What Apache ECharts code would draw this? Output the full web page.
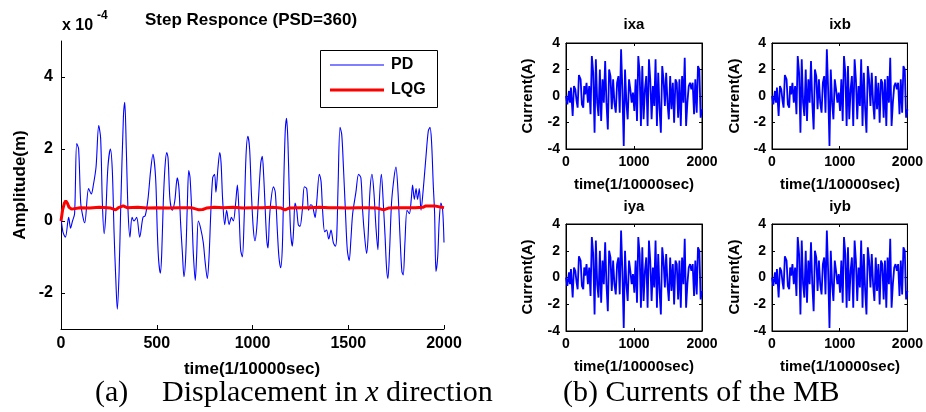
<!DOCTYPE html>
<html>
<head>
<meta charset="utf-8">
<script src="https://cdn.jsdelivr.net/npm/echarts@6/dist/echarts.min.js"></script>
<style>
html,body{margin:0;padding:0;background:#fff;}
#chart{width:926px;height:412px;}
</style>
</head>
<body>
<div id="chart"></div>
<script>
// ---- Data (values in units of 1e-4 m for PD / LQG; currents in A) ----
const pdData = [[0,0.1],[10,-0.3],[23,-0.45],[40,0.1],[50,-0.2],[60,0.0],[71,0.2],[82,2.15],[92,2.0],[103,0.5],[115,0.1],[124,-0.05],[144,0.9],[158,0.75],[169,1.0],[183,1.5],[197,2.65],[207,2.3],[216,0.5],[225,-0.35],[233,0.1],[245,1.5],[258,2.0],[268,1.4],[277,-0.3],[286,-1.6],[294,-2.45],[303,-1.5],[312,0.4],[326,2.9],[333,3.3],[341,2.0],[350,0.3],[360,-0.45],[371,0.1],[381,0.0],[395,0.1],[411,-0.45],[428,0.1],[440,0.15],[454,0.6],[468,1.4],[480,1.85],[494,1.2],[503,-0.3],[510,-1.1],[519,-1.45],[526,-0.9],[534,0.5],[543,1.5],[552,1.9],[559,1.75],[569,0.6],[581,0.3],[594,0.55],[607,1.2],[616,0.9],[625,-0.1],[634,-0.9],[642,-1.55],[651,-1.0],[660,0.5],[667,1.4],[674,1.2],[684,0.1],[691,-0.9],[701,-1.65],[708,-1.0],[717,0.0],[729,-0.2],[743,-0.6],[752,-1.1],[764,-1.6],[773,-1.0],[782,0.2],[792,1.2],[802,1.3],[809,0.8],[820,1.5],[829,1.9],[836,1.6],[844,0.6],[855,-0.1],[865,0.3],[878,-0.1],[890,0.1],[900,0.0],[912,0.5],[921,1.0],[930,0.2],[938,-0.8],[947,-1.0],[956,0.0],[966,1.8],[976,2.35],[985,2.0],[994,0.8],[1004,-0.2],[1013,-0.55],[1022,-0.2],[1030,0.5],[1043,1.6],[1051,1.8],[1058,1.3],[1065,0.5],[1074,-0.5],[1081,-0.75],[1088,0.0],[1095,0.5],[1109,0.95],[1119,0.8],[1130,-0.3],[1138,-1.0],[1147,-1.3],[1156,-0.7],[1163,1.0],[1171,2.5],[1178,2.85],[1185,2.2],[1192,0.8],[1199,-0.3],[1208,-0.7],[1215,-0.2],[1222,0.5],[1231,0.3],[1239,-0.1],[1248,-0.15],[1260,0.3],[1271,0.95],[1283,0.9],[1293,0.3],[1304,0.45],[1314,0.4],[1327,0.1],[1335,0.5],[1349,1.3],[1358,1.1],[1366,0.3],[1377,-0.3],[1387,-0.25],[1398,-0.5],[1410,-0.25],[1422,-0.6],[1433,-0.7],[1440,-0.4],[1447,1.0],[1457,2.6],[1466,2.4],[1474,1.6],[1485,0.3],[1495,-0.8],[1505,-1.1],[1514,-0.5],[1523,0.2],[1540,0.8],[1554,1.3],[1566,1.2],[1575,0.3],[1585,-0.4],[1596,-0.9],[1603,-0.5],[1613,0.8],[1624,1.3],[1634,0.8],[1645,-0.2],[1655,-0.8],[1662,0.5],[1673,1.3],[1683,0.5],[1692,-0.4],[1700,-1.3],[1707,-1.6],[1716,-0.8],[1726,0.5],[1739,1.2],[1749,1.5],[1760,0.8],[1770,-0.4],[1780,-1.4],[1787,-1.5],[1796,-0.6],[1807,0.3],[1819,0.2],[1829,0.6],[1836,1.0],[1845,0.6],[1854,0.9],[1862,0.6],[1871,0.9],[1880,0.3],[1892,0.9],[1906,1.8],[1918,2.5],[1927,2.6],[1935,2.2],[1944,1.0],[1951,0.2],[1958,-1.4],[1967,-1.0],[1975,0.0],[1984,0.5],[1993,0.3],[2000,-0.6]];

const lqgData = [[0,0.0],[8,0.3],[18,0.5],[25,0.56],[33,0.5],[42,0.38],[55,0.33],[100,0.37],[150,0.36],[200,0.38],[260,0.36],[285,0.31],[300,0.37],[325,0.42],[345,0.37],[400,0.38],[450,0.36],[500,0.37],[560,0.36],[610,0.37],[680,0.37],[720,0.31],[740,0.32],[760,0.36],[800,0.38],[850,0.37],[900,0.38],[950,0.36],[1000,0.37],[1050,0.37],[1100,0.38],[1150,0.36],[1170,0.31],[1190,0.36],[1250,0.37],[1300,0.37],[1350,0.38],[1400,0.37],[1450,0.37],[1500,0.36],[1550,0.37],[1600,0.37],[1650,0.36],[1685,0.31],[1710,0.36],[1750,0.37],[1800,0.37],[1850,0.37],[1890,0.38],[1905,0.42],[1950,0.42],[1960,0.37],[2000,0.37]];

const currentData = [[0,0.0],[20,-0.63],[44,0.38],[59,-0.5],[73,0.63],[98,-1.5],[117,0.75],[137,0.5],[156,-0.38],[171,-0.88],[190,1.58],[215,1.26],[234,-0.63],[254,-0.88],[268,0.75],[283,0.13],[302,1.0],[322,-0.5],[341,0.75],[361,-1.38],[380,3.02],[400,1.76],[420,-2.77],[439,2.77],[459,-0.5],[478,-1.5],[498,2.0],[517,-1.89],[537,1.26],[556,-0.5],[576,2.64],[595,-0.5],[615,-2.52],[634,2.0],[654,1.5],[673,-1.0],[693,1.26],[712,-0.5],[732,-1.26],[751,1.0],[771,1.5],[790,-1.26],[810,3.52],[829,0.5],[849,-3.77],[868,2.0],[888,-0.5],[907,-1.76],[927,1.26],[946,0.5],[966,-0.5],[985,0.25],[1005,-1.13],[1024,1.26],[1044,-1.89],[1063,3.02],[1083,1.76],[1102,-2.26],[1122,2.26],[1141,-1.76],[1161,0.5],[1180,1.5],[1200,-2.26],[1220,2.77],[1239,1.26],[1259,-1.76],[1278,0.75],[1298,-0.75],[1317,2.77],[1337,-2.26],[1356,1.76],[1376,-1.0],[1395,-2.77],[1415,2.26],[1434,1.26],[1454,-0.75],[1473,1.76],[1493,-0.5],[1512,-1.76],[1532,1.5],[1551,-1.0],[1571,1.0],[1590,-2.01],[1610,1.26],[1629,1.0],[1649,-1.64],[1668,1.26],[1688,-2.26],[1707,1.5],[1727,-0.5],[1746,2.89],[1766,-2.26],[1785,-0.5],[1805,0.75],[1824,1.0],[1844,0.5],[1863,1.0],[1883,-1.38],[1902,1.26],[1922,-1.26],[1941,2.26],[1961,2.0],[1980,-1.64],[2000,-1.0]];

const mainXTicks = [0, 500, 1000, 1500, 2000];
const mainYTicks = [-2, 0, 2, 4];
const smallXTicks = [0, 1000, 2000];
const smallYTicks = [-4, -2, 0, 2, 4];
const smallTitles = ['ixa', 'ixb', 'iya', 'iyb'];
const legendNames = ['PD', 'LQG'];

// ---- Layout ----
const FONT = '"Liberation Sans", Arial, Helvetica, sans-serif';
const SERIF = '"Liberation Serif", "Times New Roman", serif';
const BLUE = '#0000ff', RED = '#ff0000';

const grids = [
  {left: 61, top: 41, width: 383, height: 288},
  {left: 566, top: 43, width: 136, height: 106},
  {left: 772, top: 43, width: 137, height: 106},
  {left: 566, top: 224, width: 136, height: 107},
  {left: 772, top: 224, width: 137, height: 107}
];

const axisLine = {show: true, onZero: false, lineStyle: {color: '#000', width: 1}};
const plain = v => String(v);
const xAxes = [], yAxes = [], series = [];

// main chart
xAxes.push({
  gridIndex: 0, type: 'value', min: 0, max: 2000, interval: 500,
  axisLine: axisLine, splitLine: {show: false},
  axisTick: {show: true, inside: true, length: 4, lineStyle: {color: '#000'}},
  axisLabel: {fontFamily: FONT, fontWeight: 'bold', fontSize: 16, color: '#000', margin: 7,
    customValues: mainXTicks, formatter: plain}
});
yAxes.push({
  gridIndex: 0, type: 'value', min: -3, max: 5,
  axisLine: axisLine, splitLine: {show: false},
  axisTick: {show: true, inside: true, length: 4, lineStyle: {color: '#000'}, customValues: mainYTicks},
  axisLabel: {fontFamily: FONT, fontWeight: 'bold', fontSize: 16, color: '#000', margin: 8,
    customValues: mainYTicks, formatter: plain}
});
series.push({
  name: 'PD', type: 'line', xAxisIndex: 0, yAxisIndex: 0, data: pdData,
  showSymbol: false, symbol: 'none', smooth: 0.3, lineStyle: {color: BLUE, width: 1.1},
  itemStyle: {color: BLUE}, animation: false, z: 2
});
series.push({
  name: 'LQG', type: 'line', xAxisIndex: 0, yAxisIndex: 0, data: lqgData,
  showSymbol: false, symbol: 'none', lineStyle: {color: RED, width: 3},
  itemStyle: {color: RED}, animation: false, z: 3
});

// small charts
for (let i = 1; i <= 4; i++) {
  const base = xAxes.length;
  xAxes.push({
    gridIndex: i, type: 'value', min: 0, max: 2000, interval: 1000,
    axisLine: axisLine, splitLine: {show: false},
    axisTick: {show: true, inside: true, length: 3, lineStyle: {color: '#000'}},
    axisLabel: {fontFamily: FONT, fontWeight: 'bold', fontSize: 14, color: '#000', margin: 6,
      customValues: smallXTicks, formatter: plain}
  });
  xAxes.push({
    gridIndex: i, type: 'value', position: 'top', min: 0, max: 2000, interval: 1000,
    axisLine: axisLine, splitLine: {show: false},
    axisTick: {show: true, inside: true, length: 3, lineStyle: {color: '#000'}},
    axisLabel: {show: false}
  });
  const ybase = yAxes.length;
  yAxes.push({
    gridIndex: i, type: 'value', min: -4, max: 4, interval: 2,
    axisLine: axisLine, splitLine: {show: false},
    axisTick: {show: true, inside: true, length: 3, lineStyle: {color: '#000'}},
    axisLabel: {fontFamily: FONT, fontWeight: 'bold', fontSize: 14, color: '#000', margin: 6,
      customValues: smallYTicks, formatter: plain}
  });
  yAxes.push({
    gridIndex: i, type: 'value', position: 'right', min: -4, max: 4, interval: 2,
    axisLine: axisLine, splitLine: {show: false},
    axisTick: {show: true, inside: true, length: 3, lineStyle: {color: '#000'}},
    axisLabel: {show: false}
  });
  series.push({
    name: smallTitles[i - 1], type: 'line', xAxisIndex: base, yAxisIndex: ybase,
    data: currentData, showSymbol: false, symbol: 'none',
    lineStyle: {color: BLUE, width: 1.8}, animation: false
  });
}

// ---- Texts ----
function txt(x, y, text, opt) {
  return {
    type: 'text', x: x, y: y, silent: true,
    style: Object.assign({text: text, fill: '#000', font: 'bold 16px ' + FONT,
      align: 'center', verticalAlign: 'middle'}, opt || {})
  };
}
function rtxt(x, y, text, opt) {
  const t = txt(x, y, text, opt);
  t.rotation = Math.PI / 2;
  return t;
}
const graphics = [
  txt(251, 20, 'Step Responce (PSD=360)', {font: 'bold 17px ' + FONT}),
  txt(62, 26, 'x 10', {align: 'left', font: 'bold 16px ' + FONT}),
  txt(97, 16, '-4', {align: 'left', font: 'bold 12px ' + FONT}),
  rtxt(20, 185, 'Amplitude(m)', {font: 'bold 17px ' + FONT}),
  txt(252, 369, 'time(1/10000sec)', {font: 'bold 17px ' + FONT}),
  txt(95, 393, '(a)', {align: 'left', font: '30px ' + SERIF}),
  {
    type: 'text', x: 162, y: 393, silent: true,
    style: {
      text: 'Displacement in {i|x} direction', fill: '#000', font: '30px ' + SERIF,
      align: 'left', verticalAlign: 'middle',
      rich: {i: {font: 'italic 30px ' + SERIF, fill: '#000'}}
    }
  },
  txt(563, 393, '(b) Currents of the MB', {align: 'left', font: '30px ' + SERIF}),
  // legend box
  {type: 'rect', shape: {x: 320.5, y: 50.5, width: 117, height: 57}, silent: true,
    style: {fill: '#fff', stroke: '#000', lineWidth: 1}, z: 10},
  {type: 'line', shape: {x1: 330, y1: 65, x2: 384, y2: 65}, silent: true,
    style: {stroke: BLUE, lineWidth: 1.1}, z: 11},
  {type: 'line', shape: {x1: 330, y1: 90, x2: 384, y2: 90}, silent: true,
    style: {stroke: RED, lineWidth: 3}, z: 11},
  Object.assign(txt(391, 65, legendNames[0], {align: 'left', font: 'bold 16px ' + FONT}), {z: 11}),
  Object.assign(txt(391, 90, legendNames[1], {align: 'left', font: 'bold 16px ' + FONT}), {z: 11})
];
const smallCenters = [[634, 96, 25, 185], [840, 96, 25, 185], [634, 277, 207, 367], [840, 277, 207, 367]];
const yNameX = [528, 735, 528, 735];
for (let i = 0; i < 4; i++) {
  const c = smallCenters[i];
  graphics.push(txt(c[0], c[2], smallTitles[i], {font: 'bold 15px ' + FONT}));
  graphics.push(txt(c[0], c[3], 'time(1/10000sec)', {font: 'bold 15px ' + FONT}));
  graphics.push(rtxt(yNameX[i], c[1], 'Current(A)', {font: 'bold 15px ' + FONT}));
}

const chart = echarts.init(document.getElementById('chart'), null, {renderer: 'canvas'});
chart.setOption({
  backgroundColor: '#fff',
  animation: false,
  grid: grids.map((g, i) => Object.assign({}, g, i > 0 ? {show: true, borderColor: '#000', borderWidth: 1, backgroundColor: 'transparent'} : {})),
  xAxis: xAxes,
  yAxis: yAxes,
  series: series,
  graphic: graphics
});
</script>
</body>
</html>
